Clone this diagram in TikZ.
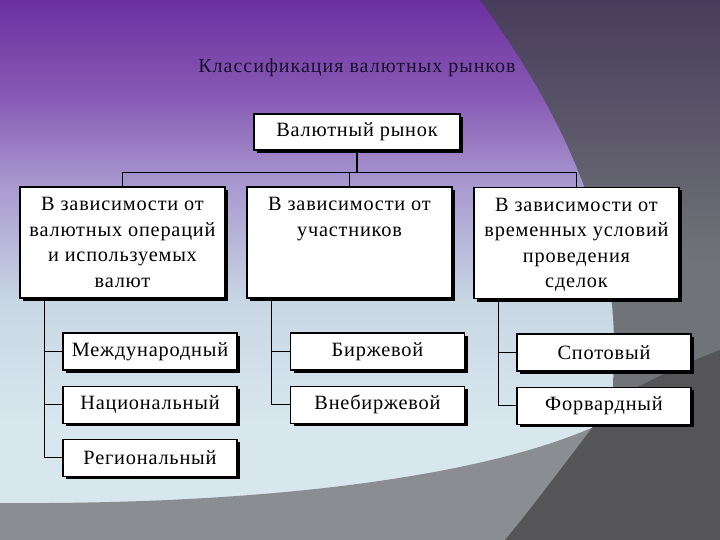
\documentclass[tikz,border=0pt]{standalone}
\usepackage{fontspec}
\setmainfont{Liberation Serif}
\newfontfamily\boxfont[LetterSpace=4]{Liberation Serif}
\newfontfamily\titlefont[LetterSpace=5]{Liberation Serif}
\usetikzlibrary{positioning,shadows}

\definecolor{bgtop}{RGB}{108,48,160}
\definecolor{bgupper}{RGB}{135,90,180}
\definecolor{bgmid}{RGB}{168,152,207}
\definecolor{bglow}{RGB}{200,215,228}
\definecolor{bgbot}{RGB}{216,230,238}
\definecolor{darktop}{RGB}{72,60,92}
\definecolor{darkmid}{RGB}{112,116,120}
\definecolor{greyband}{RGB}{138,142,146}
\definecolor{greydark}{RGB}{85,85,88}
\definecolor{titleink}{RGB}{25,15,45}

\pgfdeclareverticalshading{slidebg}{100bp}{color(0bp)=(bgbot); color(36bp)=(bgbot);
  color(47bp)=(bglow); color(58bp)=(bgmid); color(66bp)=(bgupper); color(75bp)=(bgtop); color(100bp)=(bgtop)}
\pgfdeclareverticalshading{sidebg}{100bp}{color(0bp)=(darkmid); color(45bp)=(darkmid);
  color(75bp)=(darktop); color(100bp)=(darktop)}

\begin{document}
\begin{tikzpicture}[x=1pt, y=-1pt,
    font=\boxfont\fontsize{20.3}{25.5}\selectfont,
    box/.style={draw, fill=white, line width=1.2pt, inner sep=0pt,
      drop shadow={shadow xshift=3pt, shadow yshift=-3pt, fill=black, opacity=1}},
    topbox/.style={box, minimum width=206pt, minimum height=36pt},
    groupbox/.style={box, minimum width=205pt, minimum height=111pt},
    leafbox/.style={box, minimum width=174pt, minimum height=37pt},
    boxtext/.style={align=center, inner sep=0pt},
    link/.style={line width=1.1pt},
    node distance=15pt]
  \useasboundingbox (0,0) rectangle (720,540);
  % slide background
  \shade[shading=slidebg] (0,0) rectangle (720,540);
  \shade[shading=sidebg] (480,0) .. controls (560,110) and (612,220) .. (614,340)
    -- (612,440) -- (720,440) -- (720,0) -- cycle;
  \fill[greyband] (0,503) .. controls (300,505) and (500,470) .. (598,425)
    -- (598,540) -- (0,540) -- cycle;
  \fill[greydark] (592,428) .. controls (560,470) and (530,510) .. (505,540) -- (720,540)
    -- (720,350) .. controls (680,365) and (640,385) .. (614,400) -- cycle;

  \node[text=titleink, font=\titlefont\fontsize{20}{23}\selectfont] (title) at (357,68) {Классификация валютных рынков};

  \node[topbox] (market) at (357,132) {Валютный рынок};

  \node[groupbox] (ops) at (122.5,242.5) {};
  \node[groupbox] (part) at (349.5,242.5) {};
  \node[groupbox] (time) at (576.5,243) {};
  \node[boxtext, below=11pt of ops.north] {В зависимости от\\валютных операций\\и используемых\\валют};
  \node[boxtext, below=11pt of part.north] {В зависимости от\\участников};
  \node[boxtext, below=11pt of time.north] {В зависимости от\\временных условий\\проведения\\сделок};

  \node[leafbox] (intl) at (150,351.5) {Международный};
  \node[leafbox, below=of intl] (nat) {Национальный};
  \node[leafbox, below=of nat] (reg) {Региональный};
  \node[leafbox] (exch) at (377.5,351.5) {Биржевой};
  \node[leafbox, below=of exch] (otc) {Внебиржевой};
  \node[leafbox] (spot) at (604,352.5) {Спотовый};
  \node[leafbox, below=of spot] (fwd) {Форвардный};

  \draw[link] (market.south) -- ++(0,22) -| (ops.north);
  \draw[link] (market.south) -- ++(0,22) -| (part.north);
  \draw[link] (market.south) -- ++(0,22) -| (time.north);

  \foreach \leaf in {intl,nat,reg}
    \draw[link] ([xshift=25pt]ops.south west) |- (\leaf.west);
  \foreach \leaf in {exch,otc}
    \draw[link] ([xshift=25pt]part.south west) |- (\leaf.west);
  \foreach \leaf in {spot,fwd}
    \draw[link] ([xshift=25pt]time.south west) |- (\leaf.west);
\end{tikzpicture}
\end{document}
